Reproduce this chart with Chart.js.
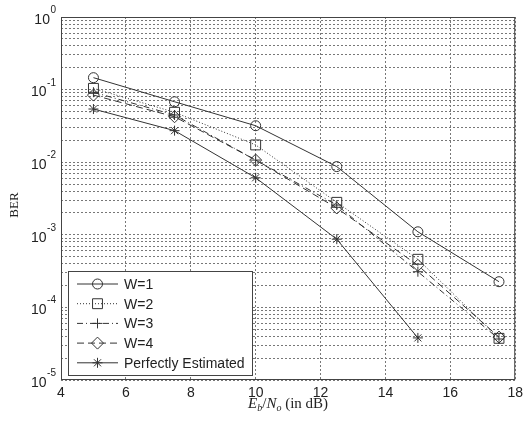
<!DOCTYPE html>
<html>
<head>
<meta charset="utf-8">
<script src="https://cdn.jsdelivr.net/npm/chart.js@4/dist/chart.umd.min.js"></script>
<style>
  html, body { margin: 0; padding: 0; background: #fff; }
  #wrap { width: 528px; height: 422px; position: relative; }
</style>
</head>
<body>
<div id="wrap"><canvas id="berChart"></canvas></div>
<script>
// Eb/No values (dB)
var snr = [5, 7.5, 10, 12.5, 15, 17.5];
var berW1 = [0.146, 0.068, 0.0318, 0.0087, 0.0011, 0.000226];
var berW2 = [0.104, 0.0487, 0.0173, 0.0028, 0.00046, 0.0000375];
var berW3 = [0.092, 0.0447, 0.0107, 0.00257, 0.00031, 0.0000367];
var berW4 = [0.084, 0.0423, 0.0107, 0.00234, 0.00038, 0.000039];
var berPerfect = [0.054, 0.0272, 0.0061, 0.00087, 0.000038];
var seriesNames = ['W=1', 'W=2', 'W=3', 'W=4', 'Perfectly Estimated'];
var xTicks = [4, 6, 8, 10, 12, 14, 16, 18];
var yDecades = [-5, -4, -3, -2, -1, 0];

var ink = '#333';

function pts(ys) {
    return ys.map(function (v, i) { return { x: snr[i], y: v }; });
}

function makeSet(label, ys, style, radius, dash) {
    return {
        label: label,
        data: pts(ys),
        borderColor: ink,
        backgroundColor: 'rgba(0,0,0,0)',
        borderWidth: 1,
        borderDash: dash,
        pointStyle: style,
        pointRadius: radius,
        pointBorderColor: ink,
        pointBackgroundColor: 'rgba(0,0,0,0)',
        pointBorderWidth: 1,
        tension: 0
    };
}

var datasets = [
    makeSet(seriesNames[0], berW1, 'circle', 5, []),
    makeSet(seriesNames[1], berW2, 'rect', 7, [1, 2]),
    makeSet(seriesNames[2], berW3, 'cross', 5, [6, 3, 1, 3]),
    makeSet(seriesNames[3], berW4, 'rectRot', 6, [7, 4]),
    makeSet(seriesNames[4], berPerfect, 'star', 5, [])
];

// box, y labels with superscript exponents, axis titles, legend
var decorations = {
    id: 'decorations',
    afterDraw: function (chart) {
        var ctx = chart.ctx;
        var a = chart.chartArea;
        var ys = chart.scales.y;
        ctx.save();

        ctx.strokeStyle = '#444';
        ctx.lineWidth = 1;
        ctx.setLineDash([]);
        ctx.strokeRect(a.left + 0.5, a.top + 0.5, a.right - a.left - 1, a.bottom - a.top - 1);

        // y tick labels 10^n
        ctx.fillStyle = '#222';
        yDecades.forEach(function (e) {
            var py = ys.getPixelForValue(Math.pow(10, e));
            ctx.font = '10px "Liberation Sans", Arial, sans-serif';
            ctx.textAlign = 'left';
            ctx.textBaseline = 'alphabetic';
            var ex = String(e);
            var ew = ctx.measureText(ex).width;
            var exX = a.left - 5 - ew;
            ctx.fillText(ex, exX, py - 4);
            ctx.font = '14px "Liberation Sans", Arial, sans-serif';
            ctx.textAlign = 'right';
            ctx.textBaseline = 'middle';
            ctx.fillText('10', exX - 0.5, py + 3);
        });

        // y title
        ctx.save();
        ctx.translate(15, 205);
        ctx.rotate(-Math.PI / 2);
        ctx.font = '13px "Liberation Serif", "Times New Roman", serif';
        ctx.textAlign = 'center';
        ctx.textBaseline = 'middle';
        ctx.fillText('BER', 0, 0);
        ctx.restore();

        // x title: E_b/N_o (in dB)
        var parts = [
            { t: 'E', f: 'italic 15px "Liberation Serif", serif', dy: 0 },
            { t: 'b', f: 'italic 10px "Liberation Serif", serif', dy: 3 },
            { t: '/', f: '15px "Liberation Serif", serif', dy: 0 },
            { t: 'N', f: 'italic 15px "Liberation Serif", serif', dy: 0 },
            { t: 'o', f: 'italic 10px "Liberation Serif", serif', dy: 3 },
            { t: ' (in dB)', f: '15px "Liberation Serif", serif', dy: 0 }
        ];
        var total = 0;
        parts.forEach(function (p) { ctx.font = p.f; p.w = ctx.measureText(p.t).width; total += p.w; });
        var cx = (a.left + a.right) / 2 - total / 2;
        ctx.textAlign = 'left';
        ctx.textBaseline = 'alphabetic';
        parts.forEach(function (p) {
            ctx.font = p.f;
            ctx.fillText(p.t, cx, 408 + p.dy);
            cx += p.w;
        });

        // legend
        var lx = a.left + 7, ly = 271, lw = 184, lh = 104;
        ctx.fillStyle = '#fff';
        ctx.fillRect(lx, ly, lw, lh);
        ctx.strokeStyle = '#444';
        ctx.strokeRect(lx + 0.5, ly + 0.5, lw, lh);
        chart.data.datasets.forEach(function (ds, i) {
            var ry = ly + 13 + i * 19.7;
            ctx.strokeStyle = ink;
            ctx.lineWidth = 1;
            ctx.setLineDash(ds.borderDash);
            ctx.beginPath();
            ctx.moveTo(lx + 9, ry);
            ctx.lineTo(lx + 50, ry);
            ctx.stroke();
            ctx.setLineDash([]);
            ctx.fillStyle = 'rgba(0,0,0,0)';
            Chart.helpers.drawPoint(ctx, {
                pointStyle: ds.pointStyle,
                radius: ds.pointRadius,
                rotation: 0,
                borderWidth: 1
            }, lx + 29.5, ry);
            ctx.fillStyle = '#222';
            ctx.font = '14px "Liberation Sans", Arial, sans-serif';
            ctx.textAlign = 'left';
            ctx.textBaseline = 'middle';
            ctx.fillText(ds.label, lx + 56, ry + 1);
        });

        ctx.restore();
    }
};

var dotted = {
    color: '#777',
    lineWidth: 1,
    drawTicks: false
};

new Chart(document.getElementById('berChart'), {
    type: 'line',
    data: { datasets: datasets },
    options: {
        responsive: true,
        maintainAspectRatio: false,
        animation: false,
        layout: { padding: { left: 0, right: 6, top: 17, bottom: 0 } },
        plugins: { legend: { display: false }, tooltip: { enabled: false } },
        scales: {
            x: {
                type: 'linear',
                min: 4,
                max: 18,
                afterBuildTicks: function (scale) {
                    scale.ticks = xTicks.map(function (v) { return { value: v }; });
                },
                grid: dotted,
                border: { display: false, dash: [2, 2] },
                ticks: {
                    color: '#222',
                    padding: 5,
                    font: { family: '"Liberation Sans", Arial, sans-serif', size: 14 },
                    maxRotation: 0
                },
                afterFit: function (scale) { scale.height = 42; }
            },
            y: {
                type: 'logarithmic',
                min: 1e-5,
                max: 1,
                afterBuildTicks: function (scale) {
                    var t = [];
                    yDecades.forEach(function (e) {
                        for (var m = 1; m <= 9; m++) {
                            if (e === 0 && m > 1) break;
                            t.push({ value: m * Math.pow(10, e) });
                        }
                    });
                    scale.ticks = t;
                },
                grid: dotted,
                border: { display: false, dash: [2, 2] },
                ticks: { display: false },
                afterFit: function (scale) { scale.width = 61; }
            }
        }
    },
    plugins: [decorations]
});
</script>
</body>
</html>
